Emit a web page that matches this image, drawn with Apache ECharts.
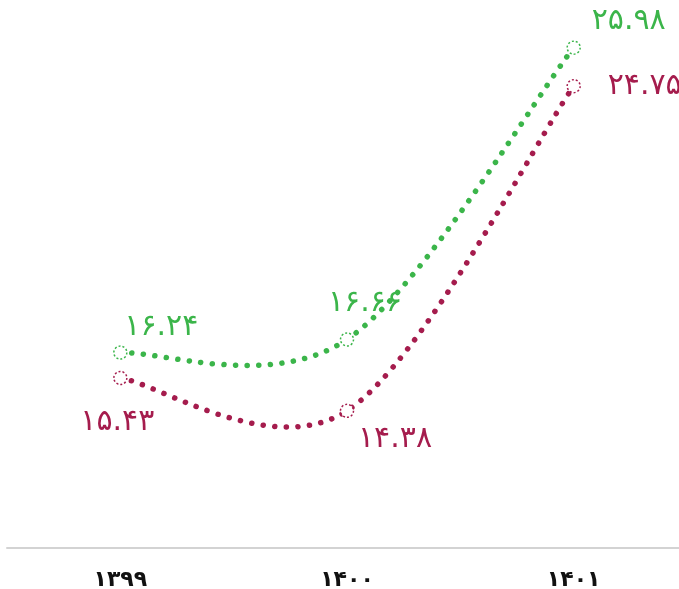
<!DOCTYPE html>
<html><head><meta charset="utf-8">
<script src="https://cdn.jsdelivr.net/npm/echarts@6/dist/echarts.min.js"></script>
<style>html,body{margin:0;padding:0;background:#fff}#c{width:679px;height:589px}</style>
</head><body><div id="c"></div>
<script>
const categories = ['۱۳۹۹', '۱۴۰۰', '۱۴۰۱'];
const greenValues = [16.24, 16.66, 25.98];
const redValues = [15.43, 14.38, 24.75];
const yMin = 10, yMax = 26;

const GREEN = '#3bb54a', RED = '#a51c4d';
const FONT = 'DejaVu Sans';
const fa = s => String(s).replace(/\d/g, d => '۰۱۲۳۴۵۶۷۸۹'[d]);
const fmt = v => fa(v.toFixed(2));

const greenOffsets = [[41, -25], [18, -36], [55, -26]];
const redOffsets = [[-3, 44], [48, 28], [71, 0]];

// cardinal (tension 0) spline path through pixel points
function cardinalPath(p) {
  let d = 'M' + p[0][0] + ' ' + p[0][1];
  for (let i = 0; i < p.length - 1; i++) {
    const p0 = p[Math.max(i - 1, 0)], p1 = p[i], p2 = p[i + 1], p3 = p[Math.min(i + 2, p.length - 1)];
    const c1 = [p1[0] + (p2[0] - p0[0]) / 6, p1[1] + (p2[1] - p0[1]) / 6];
    const c2 = [p2[0] - (p3[0] - p1[0]) / 6, p2[1] - (p3[1] - p1[1]) / 6];
    d += ' C' + c1.join(' ') + ' ' + c2.join(' ') + ' ' + p2.join(' ');
  }
  return d;
}

function curveSeries(values, color) {
  return {
    type: 'custom', data: [[0]], silent: true, z: 2, clip: false,
    renderItem: (params, api) => {
      const pts = values.map((v, i) => api.coord([i, v]));
      return {
        type: 'path',
        shape: { pathData: cardinalPath(pts) },
        style: { fill: null, stroke: color, lineWidth: 5.5, lineDash: [0.1, 11.5], lineCap: 'round' }
      };
    }
  };
}

function pointSeries(values, offsets, color) {
  return {
    type: 'line',
    data: values.map((v, i) => ({ value: v, label: { offset: offsets[i] } })),
    symbol: 'circle', symbolSize: 13, clip: false,
    itemStyle: { color: '#fff', borderColor: color, borderWidth: 1.5, borderType: [2, 2] },
    lineStyle: { opacity: 0 },
    label: {
      show: true, position: 'inside', align: 'center', verticalAlign: 'middle',
      color, fontFamily: FONT, fontSize: 30,
      formatter: p => fmt(p.value)
    },
    emphasis: { disabled: true },
    z: 3
  };
}

const chart = echarts.init(document.getElementById('c'));
chart.setOption({
  animation: false,
  grid: { left: 7, width: 680, top: 47, bottom: 41, containLabel: false, outerBoundsMode: 'none' },
  xAxis: {
    type: 'category', data: categories, boundaryGap: true,
    axisLine: { lineStyle: { color: '#d3d3d3', width: 2 } },
    axisTick: { show: false },
    axisLabel: { color: '#111', fontFamily: FONT, fontSize: 22, fontWeight: 'bold', margin: 21 }
  },
  yAxis: {
    type: 'value', min: yMin, max: yMax, show: false, splitLine: { show: false }
  },
  series: [
    curveSeries(greenValues, GREEN),
    curveSeries(redValues, RED),
    pointSeries(greenValues, greenOffsets, GREEN),
    pointSeries(redValues, redOffsets, RED)
  ]
});
</script></body></html>
